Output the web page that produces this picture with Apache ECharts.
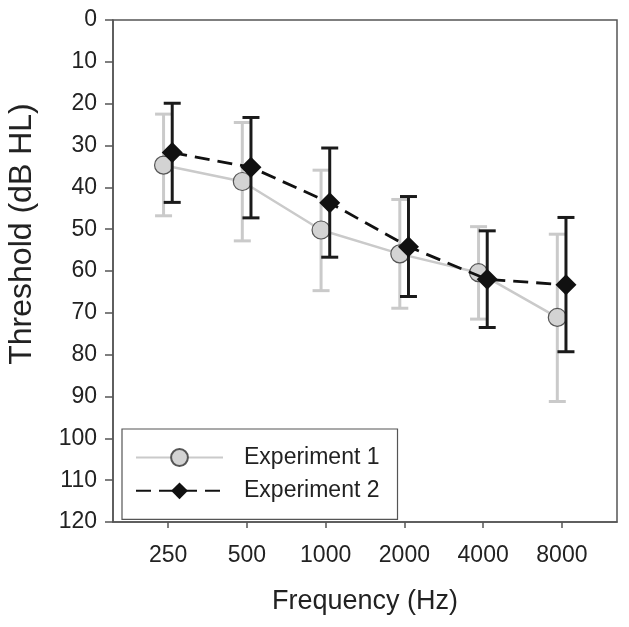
<!DOCTYPE html>
<html>
<head>
<meta charset="utf-8">
<script src="https://cdn.jsdelivr.net/npm/echarts@6/dist/echarts.min.js"></script>
<style>html,body{margin:0;padding:0;background:#fff}#c{width:629px;height:627px}</style>
</head>
<body>
<div id="c"></div>
<script>
// ---- data ----
const frequencies = ['250', '500', '1000', '2000', '4000', '8000'];
const exp1Mean = [34.7, 38.6, 50.2, 55.9, 60.4, 71.1];
const exp1Low  = [22.5, 24.5, 35.9, 42.9, 49.4, 51.2];
const exp1High = [46.8, 52.8, 64.7, 68.9, 71.5, 91.2];
const exp2Mean = [31.7, 35.2, 43.7, 54.2, 62.0, 63.3];
const exp2Low  = [19.9, 23.3, 30.6, 42.2, 50.4, 47.2];
const exp2High = [43.6, 47.3, 56.7, 66.1, 73.5, 79.3];
const yTicks = [0, 10, 20, 30, 40, 50, 60, 70, 80, 90, 100, 110, 120];

const FONT = '"Liberation Sans", Arial, sans-serif';
const TXT = '#222';
const AX = '#555';
const OFF1 = -0.058, OFF2 = 0.052;

const idx = frequencies.map((f, i) => i);
const s1 = idx.map(i => [i + OFF1, exp1Mean[i]]);
const s2 = idx.map(i => [i + OFF2, exp2Mean[i]]);
const e1 = idx.map(i => [i + OFF1, exp1Low[i], exp1High[i]]);
const e2 = idx.map(i => [i + OFF2, exp2Low[i], exp2High[i]]);

function errRender(color, w, cap) {
  return function (params, api) {
    const x = api.value(0), lo = api.value(1), hi = api.value(2);
    const p1 = api.coord([x, lo]), p2 = api.coord([x, hi]);
    const c = cap / 2;
    const st = { stroke: color, lineWidth: w };
    return {
      type: 'group',
      children: [
        { type: 'line', shape: { x1: p1[0], y1: p1[1], x2: p2[0], y2: p2[1] }, style: st },
        { type: 'line', shape: { x1: p1[0] - c, y1: p1[1], x2: p1[0] + c, y2: p1[1] }, style: st },
        { type: 'line', shape: { x1: p2[0] - c, y1: p2[1], x2: p2[0] + c, y2: p2[1] }, style: st }
      ]
    };
  };
}

const chart = echarts.init(document.getElementById('c'), null, { renderer: 'canvas' });
chart.setOption({
  animation: false,
  backgroundColor: '#fff',
  textStyle: { fontFamily: FONT },
  grid: { left: 113, right: 12, top: 20, bottom: 105, show: true, borderColor: AX, borderWidth: 1.5, backgroundColor: 'transparent' },
  legend: {
    data: ['Experiment 1', 'Experiment 2'],
    orient: 'vertical',
    left: 122, top: 429,
    padding: [17, 18, 17, 13],
    itemWidth: 87, itemHeight: 21, itemGap: 10.3,
    borderColor: AX, borderWidth: 1.2,
    textStyle: { fontSize: 23, color: TXT, fontFamily: FONT, padding: [0, 0, 0, 16] }
  },
  xAxis: {
    type: 'value', min: -0.7, max: 5.7,
    name: 'Frequency (Hz)', nameLocation: 'middle', nameGap: 66,
    nameTextStyle: { fontSize: 27, color: TXT, fontFamily: FONT },
    axisLine: { show: true, onZero: false, lineStyle: { color: AX, width: 1.5 } },
    axisTick: { show: true, customValues: idx, length: 6, lineStyle: { color: AX, width: 1.5 } },
    axisLabel: { customValues: idx, formatter: v => frequencies[Math.round(v)], fontSize: 23, color: TXT, margin: 22, fontFamily: FONT },
    splitLine: { show: false }
  },
  yAxis: {
    type: 'value', inverse: true, min: 0, max: 120, interval: 10,
    axisLine: { show: true, onZero: false, lineStyle: { color: AX, width: 1.5 } },
    axisTick: { show: true, length: 8, lineStyle: { color: AX, width: 1.5 } },
    axisLabel: { customValues: yTicks, fontSize: 23, color: TXT, margin: 16, fontFamily: FONT },
    splitLine: { show: false }
  },
  graphic: [{
    type: 'text', x: 22, y: 234, rotation: Math.PI / 2,
    style: { text: 'Threshold (dB HL)', font: '32px ' + FONT, fill: TXT, textAlign: 'center', textVerticalAlign: 'middle' }
  }],
  series: [
    { type: 'custom', name: 'err1', data: e1, renderItem: errRender('#cacaca', 3, 17), encode: { x: 0, y: [1, 2] }, z: 1, clip: false, silent: true },
    { type: 'line', name: 'Experiment 1', data: s1, z: 2,
      symbol: 'circle', symbolSize: 18,
      lineStyle: { color: '#cacaca', width: 2.5 },
      itemStyle: { color: '#d3d3d3', borderColor: '#555', borderWidth: 1.2 } },
    { type: 'custom', name: 'err2', data: e2, renderItem: errRender('#1a1a1a', 3, 17), encode: { x: 0, y: [1, 2] }, z: 3, clip: false, silent: true },
    { type: 'line', name: 'Experiment 2', data: s2, z: 4,
      symbol: 'diamond', symbolSize: 21,
      lineStyle: { color: '#111', width: 2.8, type: [15, 8] },
      itemStyle: { color: '#111', borderColor: '#111', borderWidth: 0 } }
  ]
});
</script>
</body>
</html>
